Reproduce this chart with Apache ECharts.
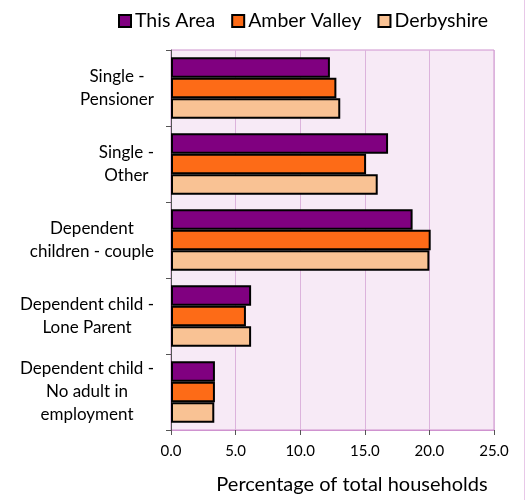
<!DOCTYPE html>
<html>
<head>
<meta charset="utf-8">
<script src="https://cdn.jsdelivr.net/npm/echarts@6/dist/echarts.min.js"></script>
<style>html,body{margin:0;padding:0;background:#fff;}#c{width:527px;height:500px;}</style>
</head>
<body>
<div id="c"></div>
<script>
const categories = [
  'Single -\nPensioner',
  'Single -\nOther',
  'Dependent\nchildren - couple',
  'Dependent child -\nLone Parent',
  'Dependent child -\nNo adult in\nemployment'
];
const seriesNames = ['This Area', 'Amber Valley', 'Derbyshire'];
const thisArea = [12.3, 16.8, 18.7, 6.2, 3.4];
const amberValley = [12.8, 15.1, 20.1, 5.8, 3.4];
const derbyshire = [13.1, 16.0, 20.0, 6.2, 3.35];
const xTicks = { min: 0, max: 25, interval: 5 };
const axisTitle = 'Percentage of total households';

const colors = ['#800080', '#fd6b17', '#f9c294'];
const font = 'Lato';
const chart = echarts.init(document.getElementById('c'), null, { renderer: 'canvas' });
const dataSets = [thisArea, amberValley, derbyshire];
chart.setOption({
  animation: false,
  textStyle: { fontFamily: font },
  legend: {
    top: 6, left: 113,
    itemWidth: 12, itemHeight: 12, itemGap: 16,
    icon: 'rect',
    itemStyle: { borderColor: '#000', borderWidth: 2 },
    textStyle: { fontSize: 19.5, color: '#000', fontFamily: font, padding: [0, 0, 0, -1] },
    data: seriesNames
  },
  grid: {
    left: 171, right: 33, top: 50, bottom: 63,
    show: true, backgroundColor: '#f7eaf6', borderColor: '#cf92cf', borderWidth: 1
  },
  xAxis: {
    type: 'value', min: xTicks.min, max: xTicks.max, interval: xTicks.interval,
    axisLine: { show: true, lineStyle: { color: '#cf92cf' } },
    axisTick: { show: true, length: 5, lineStyle: { color: '#555' } },
    splitLine: { show: true, lineStyle: { color: '#dcb3dc' } },
    axisLabel: { formatter: v => v.toFixed(1), color: '#000', fontSize: 15, margin: 14, fontFamily: font },
    name: axisTitle, nameLocation: 'middle', nameGap: 45,
    nameTextStyle: { fontSize: 20, color: '#000', fontFamily: font, padding: [0, 0, 0, 39] }
  },
  yAxis: {
    type: 'category', data: categories, inverse: true,
    axisLine: { show: true, lineStyle: { color: '#555' } },
    axisTick: { show: true, length: 5, lineStyle: { color: '#555' } },
    axisLabel: {
      margin: 17, color: '#000', fontSize: 17, fontFamily: font, align: 'right',
      formatter: v => v.split('\n').map(l => '{c|' + l + '}').join('\n'),
      rich: { c: { align: 'center', fontSize: 17, lineHeight: 23, fontFamily: font, color: '#000' } }
    }
  },
  series: dataSets.map((d, i) => ({
    name: seriesNames[i], type: 'bar', data: d,
    barGap: '0%', barCategoryGap: '19%',
    itemStyle: { color: colors[i], borderColor: '#000', borderWidth: 2 }
  })),
  graphic: [{ type: 'line', shape: { x1: 524.5, y1: 0, x2: 524.5, y2: 500 }, style: { stroke: '#e8c8e8', lineWidth: 1 } }]
});
</script>
</body>
</html>
